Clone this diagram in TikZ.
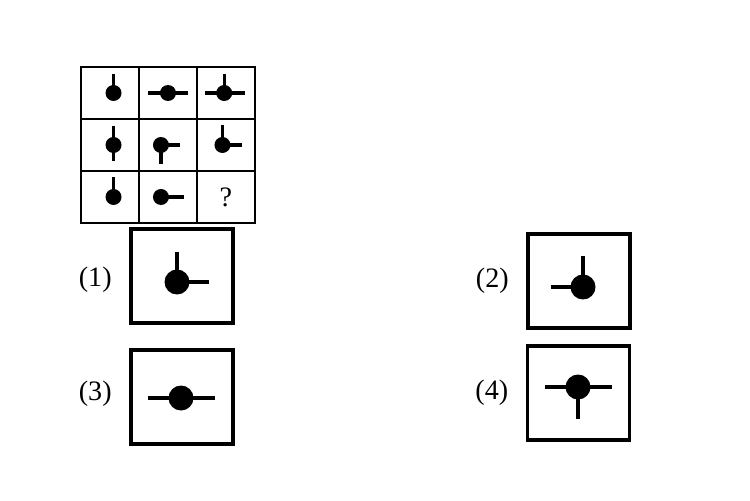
\documentclass[tikz,border=0pt]{standalone}
\usepackage{fontspec}
\setmainfont{Liberation Serif}
\usetikzlibrary{positioning}

\begin{document}
\begin{tikzpicture}[x=0.02cm, y=-0.02cm, node distance = 0pt,
	cell/.style={draw, line width=1.2pt, outer sep=0pt, inner sep=0pt, minimum width=1.16cm, minimum height=1.04cm},
	optbox/.style={draw, line width=1.9pt, outer sep=0pt, inner sep=0pt, minimum width=2.04cm, minimum height=1.88cm},
	sdot/.style={circle, fill, inner sep=0pt, minimum size=0.32cm},
	bdot/.style={circle, fill, inner sep=0pt, minimum size=0.5cm},
	arm/.style={line width=1.8pt},
	barm/.style={line width=2pt},
	lab/.style={inner sep=0pt, font=\fontsize{16}{19}\selectfont}]
	
	\useasboundingbox (0,0) rectangle (750,500);
	
	% grid
	\node[cell] (11) at (110,93) {};
	\node[cell] (12) [right=of 11] {};
	\node[cell] (13) [right=of 12] {};
	\node[cell] (21) [below=of 11] {};
	\node[cell] (22) [right=of 21] {};
	\node[cell] (23) [right=of 22] {};
	\node[cell] (31) [below=of 21] {};
	\node[cell] (32) [right=of 31] {};
	\node[cell,lab] (33) [right=of 32] {?};
	
	\node[sdot] (d11) at ([xshift=2]11) {};
	\node[sdot] (d12) at (12) {};
	\node[sdot] (d13) at ([xshift=-1]13) {};
	\node[sdot] (d21) at ([xshift=2]21) {};
	\node[sdot] (d22) at ([xshift=-4]22) {};
	\node[sdot] (d23) at ([xshift=-2]23) {};
	\node[sdot] (d31) at ([xshift=2]31) {};
	\node[sdot] (d32) at ([xshift=-4]32) {};
	
	\draw[arm] (d11.center) -- ++(0,-19);
	\draw[arm] (d12.center) ++(-20,0) -- ++(40,0);
	\draw[arm] (d13.center) ++(-19,0) -- ++(40,0);
	\draw[arm] (d13.center) -- ++(0,-19);
	\draw[arm] (d21.center) ++(0,-19) -- ++(0,35);
	\draw[arm] (d22.center) -- ++(19,0);
	\draw[arm] (d22.center) -- ++(0,19);
	\draw[arm] (d23.center) -- ++(0,-20);
	\draw[arm] (d23.center) -- ++(20,0);
	\draw[arm] (d31.center) -- ++(0,-20);
	\draw[arm] (d32.center) -- ++(23,0);
	
	% answers
	\node[optbox] (o1) at (182,276) {};
	\node[optbox] (o2) at (579,281) {};
	\node[optbox] (o3) at (182,397) {};
	\node[optbox] (o4) at (578.5,393) {};
	
	\node[lab] (l1) [left=0.38cm of o1.west, yshift=-2] {(1)};
	\node[lab] (l2) [left=0.38cm of o2.west] {(2)};
	\node[lab] (l3) [left=0.38cm of o3.west, yshift=2] {(3)};
	\node[lab] (l4) [left=0.38cm of o4.west] {(4)};
	
	\node[bdot] (b1) at (177,282) {};
	\node[bdot] (b2) at (583,287) {};
	\node[bdot] (b3) at (181,398) {};
	\node[bdot] (b4) at (578,387) {};
	
	\draw[barm] (b1.center) -- ++(0,-30);
	\draw[barm] (b1.center) -- ++(32,0);
	\draw[barm] (b2.center) -- ++(0,-31);
	\draw[barm] (b2.center) -- ++(-32,0);
	\draw[barm] (b3.center) ++(-33,0) -- ++(67,0);
	\draw[barm] (b4.center) ++(-33,0) -- ++(67,0);
	\draw[barm] (b4.center) -- ++(0,32);
	
\end{tikzpicture}
\end{document}
